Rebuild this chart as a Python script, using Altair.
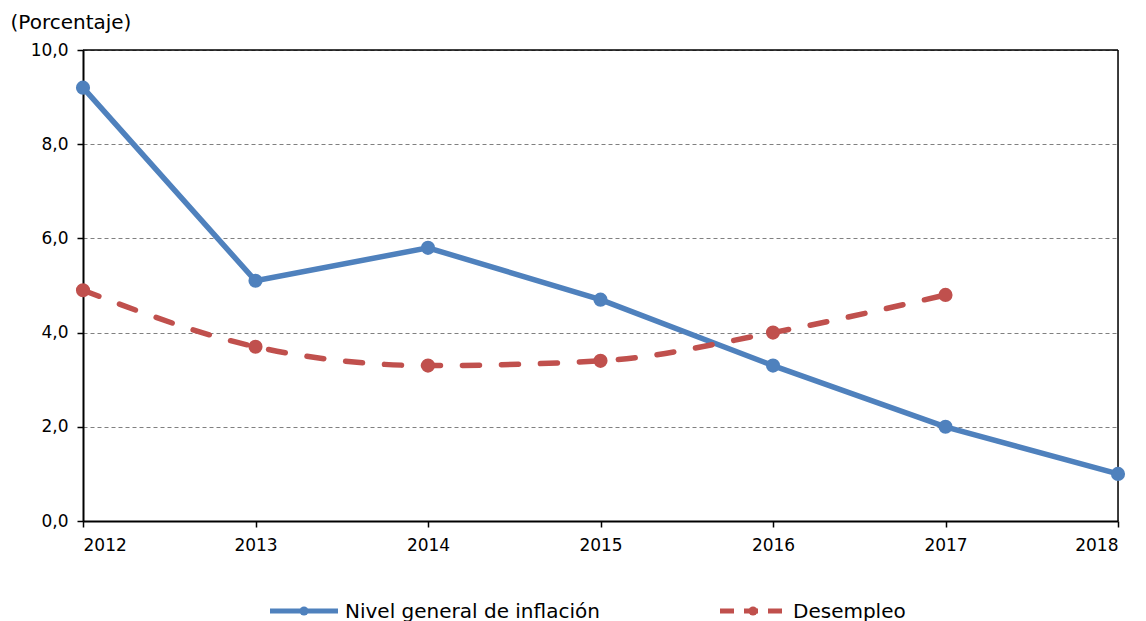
import altair as alt
import pandas as pd

years = [2012, 2013, 2014, 2015, 2016, 2017, 2018]
inflacion = [9.2, 5.1, 5.8, 4.7, 3.3, 2.0, 1.0]
desempleo_years = [2012, 2013, 2014, 2015, 2016, 2017]
desempleo = [4.9, 3.7, 3.3, 3.4, 4.0, 4.8]
series_names = ["Nivel general de inflación", "Desempleo"]
series_colors = ["#4F81BD", "#C0504D"]
y_ticks = [0, 2, 4, 6, 8, 10]

df_inf = pd.DataFrame({"year": years, "value": inflacion, "serie": series_names[0]})
df_des = pd.DataFrame({"year": desempleo_years, "value": desempleo, "serie": series_names[1]})

FONT = "DejaVu Sans"

x = alt.X("year:Q", scale=alt.Scale(domain=[2012, 2018], nice=False, zero=False),
          axis=alt.Axis(values=years, format="d", title=None, grid=False,
                        domainColor="black", domainWidth=2, tickColor="black",
                        tickSize=6, tickWidth=1.5, labelFontSize=17, labelColor="black",
                        labelPadding=10, labelFont=FONT))
y = alt.Y("value:Q", scale=alt.Scale(domain=[0, 10], nice=False),
          axis=alt.Axis(values=y_ticks, title="(Porcentaje)", titleAngle=0, titleAlign="left",
                        titleBaseline="alphabetic", titleX=-73, titleY=-22, titleFontSize=20,
                        titleFontWeight="normal", titleFont=FONT, titleColor="black",
                        labelExpr="replace(format(datum.value, '.1f'), '.', ',')",
                        labelFontSize=17, labelFont=FONT, labelColor="black", labelPadding=9,
                        domainColor="black", domainWidth=2, tickColor="black", tickSize=6,
                        tickWidth=1.5, grid=True, gridColor="#808080", gridDash=[4, 3],
                        gridWidth=1))

blue_line = alt.Chart(df_inf).mark_line(color=series_colors[0], strokeWidth=5.5).encode(x=x, y=y)
blue_pts = alt.Chart(df_inf).mark_point(filled=True, color=series_colors[0], size=200, opacity=1).encode(x=x, y=y)
red_line = alt.Chart(df_des).mark_line(color=series_colors[1], strokeWidth=5.5, interpolate="monotone",
                                       strokeDash=[17, 22], strokeCap="round").encode(x=x, y=y)
red_pts = alt.Chart(df_des).mark_point(filled=True, color=series_colors[1], size=200, opacity=1).encode(x=x, y=y)

# Plot frame (top and right borders)
top_border = alt.Chart(df_inf.iloc[[0]]).mark_rule(color="black", strokeWidth=1.5).encode(
    x=alt.value(0), x2=alt.value(1035), y=alt.value(0))
right_border = alt.Chart(df_inf.iloc[[0]]).mark_rule(color="black", strokeWidth=1.5).encode(
    x=alt.value(1035), y=alt.value(0), y2=alt.value(471))

# Manual legend
leg = pd.DataFrame({"serie": series_names, "color": series_colors,
                    "xc": [221, 670], "xt": [262, 710]})
leg_y = 561
leg_blue = alt.Chart(leg.iloc[[0]]).mark_rule(color=series_colors[0], strokeWidth=5).encode(
    x=alt.value(187), x2=alt.value(255), y=alt.value(leg_y))
leg_red = alt.Chart(leg.iloc[[1]]).mark_rule(color=series_colors[1], strokeWidth=5, strokeDash=[14, 10]).encode(
    x=alt.value(637), x2=alt.value(704), y=alt.value(leg_y))
leg_pts = alt.Chart(leg).mark_point(filled=True, size=80, opacity=1).encode(
    x=alt.X("xc:Q", scale=None), y=alt.value(leg_y),
    color=alt.Color("color:N", scale=None))
leg_text = alt.Chart(leg).mark_text(align="left", baseline="middle", fontSize=20, font=FONT,
                                    color="black").encode(
    x=alt.X("xt:Q", scale=None), y=alt.value(leg_y + 1), text="serie:N")

chart = alt.layer(top_border, right_border, blue_line, red_line, blue_pts, red_pts,
                  leg_blue, leg_red, leg_pts, leg_text).properties(
    width=1035, height=471,
    padding={"left": 75, "top": 42, "right": 20, "bottom": 100},
    autosize=alt.AutoSizeParams(type="none"),
).configure_view(stroke=None).configure(background="white")

chart.save("out.html", embed_options={"renderer": "svg", "actions": False})
